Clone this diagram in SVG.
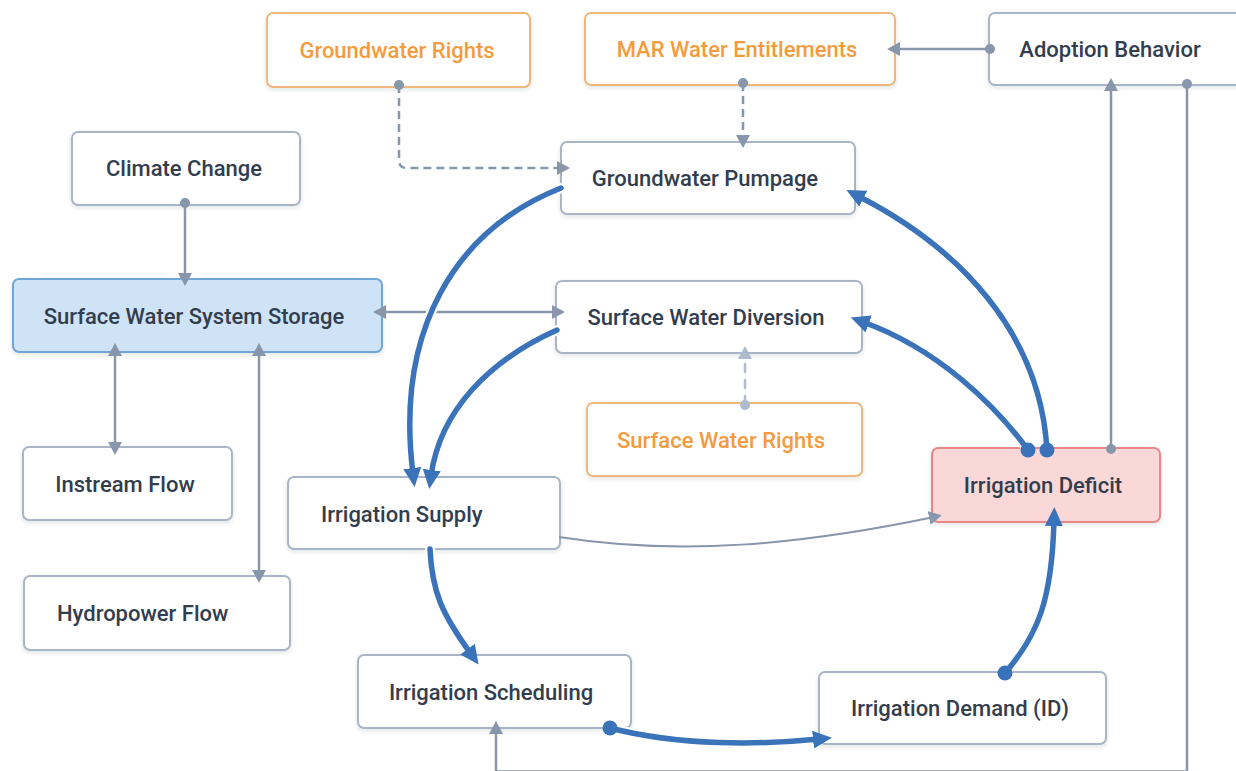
<svg xmlns="http://www.w3.org/2000/svg" width="1236" height="771" viewBox="0 0 1236 771">
  <style>
    .node rect { fill: #ffffff; stroke: #a9b5c6; stroke-width: 2; filter: url(#shadow); }
    .node.rights rect { stroke: #f1b67c; }
    .node.storage rect { fill: #cee3f6; stroke: #6ea6da; }
    .node.deficit rect { fill: #fbd8d8; stroke: #e98686; }
    .node text { font-family: Roboto, "Liberation Sans", sans-serif; font-weight: 500; font-size: 22px; fill: #323d4e; text-anchor: middle; dominant-baseline: central; }
    .node.rights text { fill: #f49b3d; }
    .node text.left { text-anchor: start; }
    .link { fill: none; stroke: #8896ab; stroke-width: 2.5; }
    .link.thin { stroke-width: 2; }
    .link.dash { stroke-dasharray: 8 5; }
    .link.light { stroke: #aebbcc; stroke-dasharray: 10 6; }
    .dot { fill: #8896ab; }
    .dot.light { fill: #aebbcc; }
    .flow { fill: none; stroke: #3a73b9; stroke-width: 5.5; stroke-linecap: round; }
    .halo { fill: none; stroke: #ffffff; stroke-width: 10; stroke-linecap: round; }
    .bdot { fill: #3a73b9; }
  </style>
  <defs>
    <filter id="shadow" x="-10%" y="-20%" width="120%" height="150%">
      <feDropShadow dx="0" dy="2" stdDeviation="2" flood-color="#1e293b" flood-opacity="0.12"/>
    </filter>
    <marker id="arrow" markerUnits="userSpaceOnUse" markerWidth="14" markerHeight="14" refX="5" refY="7" orient="auto-start-reverse">
      <path d="M0,0 L13,7 L0,14 z" fill="#8896ab"/>
    </marker>
    <marker id="arrow-light" markerUnits="userSpaceOnUse" markerWidth="14" markerHeight="14" refX="5" refY="7" orient="auto">
      <path d="M0,0 L13,7 L0,14 z" fill="#aebbcc"/>
    </marker>
    <marker id="arrow-flow" markerUnits="userSpaceOnUse" markerWidth="20" markerHeight="18" refX="6" refY="9" orient="auto">
      <path d="M0,0 L19,9 L0,18 z" fill="#3a73b9"/>
    </marker>
  </defs>

  <rect width="1236" height="771" fill="#ffffff"/>

  <!-- nodes -->
  <g id="node-groundwater-rights" class="node rights">
    <rect x="267" y="13" width="263" height="74" rx="6"/>
    <text x="397" y="50">Groundwater Rights</text>
  </g>
  <g id="node-mar-entitlements" class="node rights">
    <rect x="585" y="13" width="310" height="72" rx="6"/>
    <text x="737" y="49">MAR Water Entitlements</text>
  </g>
  <g id="node-adoption-behavior" class="node">
    <rect x="989" y="13" width="260" height="72" rx="6"/>
    <text x="1110" y="49">Adoption Behavior</text>
  </g>
  <g id="node-climate-change" class="node">
    <rect x="72" y="132" width="228" height="73" rx="6"/>
    <text x="184" y="168">Climate Change</text>
  </g>
  <g id="node-groundwater-pumpage" class="node">
    <rect x="561" y="142" width="294" height="72" rx="6"/>
    <text x="705" y="178">Groundwater Pumpage</text>
  </g>
  <g id="node-surface-storage" class="node storage">
    <rect x="13" y="279" width="369" height="73" rx="6"/>
    <text x="194" y="316">Surface Water System Storage</text>
  </g>
  <g id="node-surface-diversion" class="node">
    <rect x="556" y="281" width="306" height="72" rx="6"/>
    <text x="706" y="317">Surface Water Diversion</text>
  </g>
  <g id="node-surface-rights" class="node rights">
    <rect x="587" y="403" width="275" height="73" rx="6"/>
    <text x="721" y="440">Surface Water Rights</text>
  </g>
  <g id="node-irrigation-deficit" class="node deficit">
    <rect x="932" y="448" width="228" height="74" rx="6"/>
    <text x="1043" y="485">Irrigation Deficit</text>
  </g>
  <g id="node-instream-flow" class="node">
    <rect x="23" y="447" width="209" height="73" rx="6"/>
    <text x="125" y="484">Instream Flow</text>
  </g>
  <g id="node-irrigation-supply" class="node">
    <rect x="288" y="477" width="272" height="72" rx="6"/>
    <text class="left" x="321" y="514">Irrigation Supply</text>
  </g>
  <g id="node-hydropower-flow" class="node">
    <rect x="24" y="576" width="266" height="74" rx="6"/>
    <text class="left" x="57" y="613">Hydropower Flow</text>
  </g>
  <g id="node-irrigation-scheduling" class="node">
    <rect x="358" y="655" width="273" height="73" rx="6"/>
    <text x="491" y="692">Irrigation Scheduling</text>
  </g>
  <g id="node-irrigation-demand" class="node">
    <rect x="819" y="672" width="287" height="72" rx="6"/>
    <text x="960" y="708">Irrigation Demand (ID)</text>
  </g>

  <!-- connectors -->
  <g id="connectors">
    <!-- thin grey influences -->
    <path class="link dash" d="M399,85 V160 Q399,168 407,168 H562" marker-end="url(#arrow)"/>
    <circle class="dot" cx="399" cy="85" r="5"/>
    <path class="link dash" d="M743,83 V140" marker-end="url(#arrow)"/>
    <circle class="dot" cx="743" cy="83" r="5"/>
    <path class="link" d="M990,49 H895" marker-end="url(#arrow)"/>
    <circle class="dot" cx="990" cy="49" r="5"/>
    <path class="link" d="M185,203 V278" marker-end="url(#arrow)"/>
    <circle class="dot" cx="185" cy="203" r="5"/>
    <path class="link" d="M381,312 H557" marker-start="url(#arrow)" marker-end="url(#arrow)"/>
    <path class="link" d="M115,351 V447" marker-start="url(#arrow)" marker-end="url(#arrow)"/>
    <path class="link" d="M259,351 V575" marker-start="url(#arrow)" marker-end="url(#arrow)"/>
    <path class="link light" d="M745,405 V354" marker-end="url(#arrow-light)"/>
    <circle class="dot light" cx="745" cy="405" r="5"/>
    <path class="link" d="M1111,449 V86" marker-end="url(#arrow)"/>
    <circle class="dot" cx="1111" cy="449" r="5"/>
    <path class="link" d="M1187,84 V771.5 H496 V729" marker-end="url(#arrow)"/>
    <circle class="dot" cx="1187" cy="84" r="5"/>
    <path class="link thin" d="M559,537 C680,556 800,545 934,517" marker-end="url(#arrow)"/>

    <!-- main irrigation loop -->
    <g id="flow-halos">
      <path class="halo" d="M561,188 C455,230 395,330 413,474"/>
      <path class="halo" d="M557,330 C490,360 440,410 431,476"/>
      <path class="halo" d="M1047,450 C1040,330 956,246 858,196"/>
      <path class="halo" d="M1028,450 C995,405 938,349 863,322"/>
      <path class="halo" d="M430,549 C432,592 442,614 471,654"/>
      <path class="halo" d="M610,728 C680,746 760,745 819,739"/>
      <path class="halo" d="M1005,673 C1038,635 1052,600 1054,520"/>
    </g>
    <path class="flow" d="M561,188 C455,230 395,330 413,474" marker-end="url(#arrow-flow)"/>
    <path class="flow" d="M557,330 C490,360 440,410 431,476" marker-end="url(#arrow-flow)"/>
    <path class="flow" d="M1047,450 C1040,330 956,246 858,196" marker-end="url(#arrow-flow)"/>
    <path class="flow" d="M1028,450 C995,405 938,349 863,322" marker-end="url(#arrow-flow)"/>
    <path class="flow" d="M430,549 C432,592 442,614 471,654" marker-end="url(#arrow-flow)"/>
    <path class="flow" d="M610,728 C680,746 760,745 819,739" marker-end="url(#arrow-flow)"/>
    <path class="flow" d="M1005,673 C1038,635 1052,600 1054,520" marker-end="url(#arrow-flow)"/>
    <circle class="bdot" cx="1028" cy="450" r="7.5"/>
    <circle class="bdot" cx="1047" cy="450" r="7.5"/>
    <circle class="bdot" cx="610" cy="728" r="7.5"/>
    <circle class="bdot" cx="1005" cy="673" r="7.5"/>
  </g>
</svg>
